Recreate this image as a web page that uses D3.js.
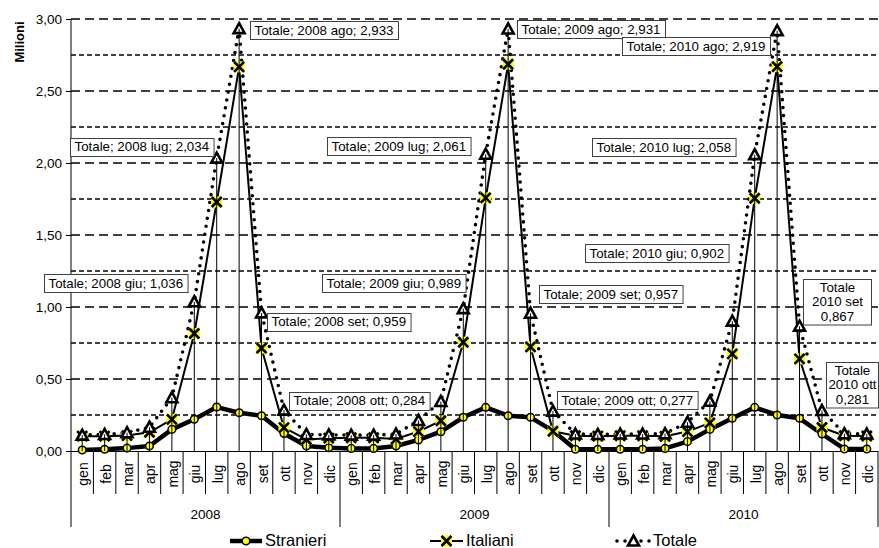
<!DOCTYPE html>
<html>
<head>
<meta charset="utf-8">
<script src="https://cdn.jsdelivr.net/npm/d3@7"></script>
<style>
  html, body { margin: 0; padding: 0; background: #fff; }
  svg { display: block; font-family: "Liberation Sans", Arial, sans-serif; }
</style>
</head>
<body>
<svg id="chart" width="879" height="548"></svg>
<script>
// Mesi e anni dell'asse delle categorie
const months = ["gen", "feb", "mar", "apr", "mag", "giu", "lug", "ago", "set", "ott", "nov", "dic"];
const years = ["2008", "2009", "2010"];

// Valori in milioni, un valore per mese (2008, 2009, 2010)
const stranieri = [
  0.007, 0.012, 0.020, 0.035, 0.150, 0.220, 0.305, 0.266, 0.245, 0.122, 0.035, 0.023,
  0.018, 0.018, 0.035, 0.077, 0.134, 0.234, 0.303, 0.245, 0.234, 0.140, 0.012, 0.012,
  0.012, 0.012, 0.018, 0.065, 0.150, 0.227, 0.303, 0.250, 0.227, 0.118, 0.014, 0.014
];
const italiani = [
  0.103, 0.103, 0.107, 0.130, 0.220, 0.816, 1.729, 2.667, 0.714, 0.162, 0.080, 0.089,
  0.092, 0.092, 0.083, 0.135, 0.210, 0.755, 1.758, 2.686, 0.723, 0.137, 0.106, 0.103,
  0.106, 0.106, 0.102, 0.135, 0.195, 0.675, 1.755, 2.669, 0.640, 0.163, 0.106, 0.104
];
const totale = [
  0.110, 0.115, 0.127, 0.165, 0.370, 1.036, 2.034, 2.933, 0.959, 0.284, 0.115, 0.112,
  0.110, 0.110, 0.118, 0.212, 0.344, 0.989, 2.061, 2.931, 0.957, 0.277, 0.118, 0.115,
  0.118, 0.118, 0.120, 0.200, 0.345, 0.902, 2.058, 2.919, 0.867, 0.281, 0.120, 0.118
];

// Tacche dell'asse dei valori
const yTicks = [0, 0.5, 1, 1.5, 2, 2.5, 3];
const yGrid = [0.25, 0.5, 0.75, 1, 1.25, 1.5, 1.75, 2, 2.25, 2.5, 2.75, 3];

// Etichette dati della serie Totale: indice del punto e posizione del riquadro
const labelPoints = [
  { i: 7,  left: 250, cy: 30 },
  { i: 19, left: 517, cy: 29 },
  { i: 31, left: 622, cy: 46 },
  { i: 6,  left: 70,  cy: 146.5 },
  { i: 18, left: 327, cy: 146 },
  { i: 30, left: 592, cy: 147 },
  { i: 5,  left: 44,  cy: 283 },
  { i: 17, left: 322, cy: 283 },
  { i: 29, left: 585, cy: 253 },
  { i: 8,  left: 267, cy: 321.5 },
  { i: 20, left: 539, cy: 294 },
  { i: 32, left: 803, top: 279, width: 68, stacked: true },
  { i: 9,  left: 289, cy: 400.5 },
  { i: 21, left: 557, cy: 400 },
  { i: 33, left: 826, top: 362, width: 52, stacked: true }
];

const locale = d3.formatLocale({ decimal: ",", thousands: ".", grouping: [3], currency: ["", "€"] });
const fmtAxis = locale.format(".2f");
const fmtVal = locale.format(".3f");

const YELLOW = "#ffff00";
const n = stranieri.length;
const cats = d3.range(n);

const svg = d3.select("#chart");
const x = d3.scaleBand().domain(cats).range([71, 878]).paddingInner(0).paddingOuter(0);
const cx = i => x(i) + x.bandwidth() / 2;
const y = d3.scaleLinear().domain([0, 3]).range([451, 19]);

// Griglia orizzontale: tratteggio lungo sui valori principali, corto sui secondari
svg.append("g").selectAll("line").data(yGrid).join("line")
  .attr("x1", 71).attr("x2", 878)
  .attr("y1", d => y(d)).attr("y2", d => y(d))
  .attr("stroke", "#000").attr("stroke-width", 1.4)
  .attr("stroke-dasharray", d => (Math.round(d * 4) % 2 === 0) ? "9,5" : "5,3");

// Asse Y
const yAxis = svg.append("g").attr("transform", "translate(71,0)")
  .call(d3.axisLeft(y).tickValues(yTicks).tickSize(5).tickPadding(4).tickFormat(fmtAxis));
yAxis.select(".domain").remove();
yAxis.selectAll("line").attr("stroke", "#000");
yAxis.selectAll("text").attr("font-size", 13.5).attr("fill", "#000")
  .attr("font-family", "'Liberation Sans', Arial, sans-serif");
svg.append("line").attr("x1", 71).attr("x2", 71).attr("y1", y(3)).attr("y2", 527)
  .attr("stroke", "#000").attr("stroke-width", 1);

svg.append("text")
  .attr("transform", "translate(19,42) rotate(-90)")
  .attr("text-anchor", "middle").attr("dominant-baseline", "central")
  .attr("font-size", 13).attr("font-weight", "bold").text("Milioni");

// Asse X con mesi ruotati
const xAxis = svg.append("g").attr("transform", "translate(0,451)")
  .call(d3.axisBottom(x).tickSize(0).tickFormat(i => months[i % 12]));
xAxis.select(".domain").attr("stroke", "#000").attr("d", "M71,0.5H878");
xAxis.selectAll("text")
  .attr("transform", "translate(1,23) rotate(-90)")
  .attr("y", 0).attr("dy", null)
  .attr("text-anchor", "middle").attr("dominant-baseline", "central")
  .attr("font-size", 14).attr("fill", "#000")
  .attr("font-family", "'Liberation Sans', Arial, sans-serif");

// Separatori delle categorie e degli anni
const bounds = d3.range(1, n + 1);
svg.append("g").selectAll("line").data(bounds).join("line")
  .attr("x1", i => x.step() * i + 71).attr("x2", i => x.step() * i + 71)
  .attr("y1", 451).attr("y2", i => (i % 12 === 0) ? 527 : 494)
  .attr("stroke", "#000").attr("stroke-width", 1);

svg.append("g").selectAll("text").data(years).join("text")
  .attr("x", (d, k) => 71 + x.step() * (k * 12 + 6))
  .attr("y", 514).attr("text-anchor", "middle").attr("dominant-baseline", "central")
  .attr("font-size", 13.5).text(d => d);

// Linee delle serie
const line = d3.line().x((d, i) => cx(i)).y(d => y(d));
svg.append("path").datum(stranieri).attr("d", line)
  .attr("fill", "none").attr("stroke", "#000").attr("stroke-width", 4.5).attr("stroke-linejoin", "round");
svg.append("path").datum(italiani).attr("d", line)
  .attr("fill", "none").attr("stroke", "#000").attr("stroke-width", 2).attr("stroke-linejoin", "round");
svg.append("path").datum(totale).attr("d", line)
  .attr("fill", "none").attr("stroke", "#000").attr("stroke-width", 3.6)
  .attr("stroke-dasharray", "0,8").attr("stroke-linecap", "round");

// Marcatori
function circleMarker(g) {
  g.append("circle").attr("r", 3.8).attr("fill", YELLOW).attr("stroke", "#000").attr("stroke-width", 1.5);
}
function crossMarker(g) {
  g.append("rect").attr("x", -5.5).attr("y", -5.5).attr("width", 11).attr("height", 11).attr("fill", YELLOW);
  g.append("path").attr("d", "M-5,-5L5,5M-5,5L5,-5").attr("stroke", "#000").attr("stroke-width", 2.6);
}
function triangleMarker(g) {
  g.append("path").attr("d", "M0,-5.5L5.5,4.5L-5.5,4.5Z")
    .attr("fill", "#fff").attr("stroke", "#000").attr("stroke-width", 2.6).attr("stroke-linejoin", "miter");
}

function drawMarkers(values, fn) {
  svg.append("g").selectAll("g").data(values).join("g")
    .attr("transform", (d, i) => `translate(${cx(i)},${y(d)})`)
    .each(function () { fn(d3.select(this)); });
}
drawMarkers(stranieri, circleMarker);
drawMarkers(italiani, crossMarker);
drawMarkers(totale, triangleMarker);

// Linee di proiezione verticali dal valore massimo all'asse
svg.append("g").selectAll("line").data(cats).join("line")
  .attr("x1", i => cx(i)).attr("x2", i => cx(i))
  .attr("y1", i => y(Math.max(stranieri[i], italiani[i], totale[i]))).attr("y2", y(0))
  .attr("stroke", "#000").attr("stroke-width", 1);

// Etichette dati
const lbl = svg.append("g").attr("font-size", 13.3);
labelPoints.forEach(p => {
  const yr = years[Math.floor(p.i / 12)];
  const mo = months[p.i % 12];
  const val = fmtVal(totale[p.i]);
  const g = lbl.append("g");
  if (p.stacked) {
    const lines = ["Totale", `${yr} ${mo}`, val];
    const lh = 14.5;
    const h = lines.length * lh + 2;
    g.append("rect").attr("x", p.left + 0.5).attr("y", p.top + 0.5).attr("width", p.width).attr("height", h)
      .attr("fill", "#fff").attr("stroke", "#404040").attr("stroke-width", 1);
    lines.forEach((t, k) => {
      g.append("text").attr("x", p.left + p.width / 2 + 0.5).attr("y", p.top + 1 + lh * (k + 0.5))
        .attr("text-anchor", "middle").attr("dominant-baseline", "central").text(t);
    });
  } else {
    const t = g.append("text").attr("x", p.left + 4.5).attr("y", p.cy)
      .attr("dominant-baseline", "central").text(`Totale; ${yr} ${mo}; ${val}`);
    const w = t.node().getComputedTextLength() + 9;
    g.insert("rect", "text").attr("x", p.left + 0.5).attr("y", Math.round(p.cy - 9) + 0.5)
      .attr("width", w).attr("height", 18)
      .attr("fill", "#fff").attr("stroke", "#404040").attr("stroke-width", 1);
  }
});

// Legenda
const legend = svg.append("g");
const legendY = 541;
const items = [
  { name: "Stranieri", x0: 230, x1: 262, width: 4.5, dash: null, marker: circleMarker },
  { name: "Italiani", x0: 430, x1: 463, width: 2, dash: null, marker: crossMarker },
  { name: "Totale", x0: 617, x1: 650, width: 3.6, dash: "0,8", marker: triangleMarker }
];
items.forEach(it => {
  const l = legend.append("line").attr("x1", it.x0).attr("x2", it.x1).attr("y1", legendY).attr("y2", legendY)
    .attr("stroke", "#000").attr("stroke-width", it.width);
  if (it.dash) l.attr("stroke-dasharray", it.dash).attr("stroke-linecap", "round");
  const m = legend.append("g").attr("transform", `translate(${(it.x0 + it.x1) / 2},${legendY})`);
  it.marker(m);
  legend.append("text").attr("x", it.x1 + 3).attr("y", 546).attr("font-size", 16.5).text(it.name);
});
</script>
</body>
</html>
